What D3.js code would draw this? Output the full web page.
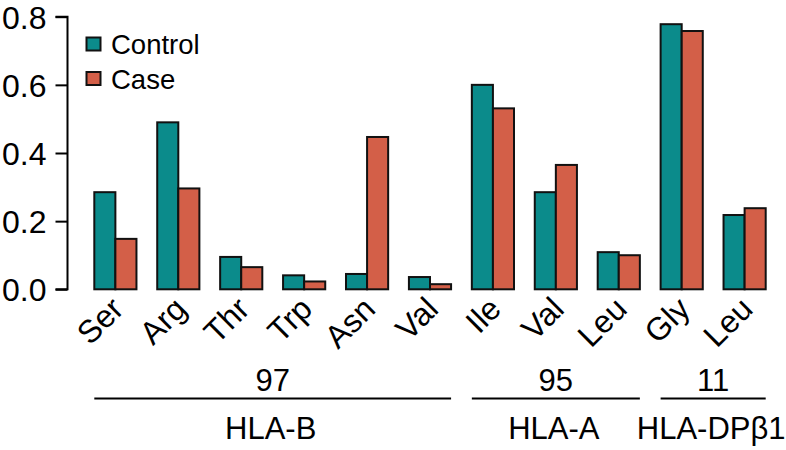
<!DOCTYPE html>
<html><head><meta charset="utf-8">
<script src="https://cdn.jsdelivr.net/npm/d3@7"></script>
<style>body{margin:0;background:#fff}svg{display:block;font-family:"Liberation Sans",Arial,Helvetica,sans-serif}</style>
</head><body><svg id="c" width="786" height="450"></svg>
<script>
const categories = ["Ser","Arg","Thr","Trp","Asn","Val","Ile","Val","Leu","Gly","Leu"];
const control = [0.285,0.49,0.095,0.041,0.045,0.036,0.60,0.285,0.109,0.778,0.218];
const caseVals = [0.148,0.296,0.065,0.023,0.447,0.015,0.531,0.365,0.10,0.758,0.238];
const seriesNames = ["Control","Case"];
const yTicks = [0,0.2,0.4,0.6,0.8];
const groupPositions = ["97","95","11"];
const groupGenes = ["HLA-B","HLA-A","HLA-DP\u03B21"];
const groupStart = [0,6,9];
const groupEnd = [5,8,10];

const colors = ["#0b8b8b","#d35f48"];
const svg = d3.select("#c");
const idx = categories.map((d,i)=>i);
const x = d3.scaleBand().domain(idx).range([94.3,765.7]).paddingInner(0.33).paddingOuter(0);
const xi = d3.scaleBand().domain([0,1]).range([0,x.bandwidth()]);
const y = d3.scaleLinear().domain([0,0.8]).range([289.3,16.7]);

// axis
const ax = svg.append("g").attr("transform","translate(67.5,0)")
  .call(d3.axisLeft(y).tickValues(yTicks).tickSize(12).tickPadding(9).tickFormat(d3.format(".1f")));
ax.attr("font-size",null).attr("font-family",null);
ax.select(".domain").attr("stroke","#000").attr("stroke-width",2).attr("d","M-12,"+y(0.8)+"H0V"+y(0)+"H-12");
ax.selectAll(".tick line").attr("stroke","#000").attr("stroke-width",2);
ax.selectAll(".tick text").attr("font-size",32).attr("fill","#000").attr("dy","0.36em");

// bars
const vals = [control, caseVals];
const g = svg.append("g");
idx.forEach(i=>{
  [0,1].forEach(s=>{
    g.append("rect")
      .attr("x", x(i)+xi(s))
      .attr("y", y(vals[s][i]))
      .attr("width", xi.bandwidth())
      .attr("height", y(0)-y(vals[s][i]))
      .attr("fill", colors[s]).attr("stroke","#111").attr("stroke-width",2);
  });
});

// category labels
svg.append("g").selectAll("text").data(idx).join("text")
  .attr("transform", i=>`translate(${x(i)+x.bandwidth()/2+10},${311}) rotate(-45)`)
  .attr("text-anchor","end").attr("font-size",32).attr("fill","#000")
  .text(i=>categories[i]);

// groups
groupPositions.forEach((p,k)=>{
  const x0 = x(groupStart[k]), x1 = x(groupEnd[k])+x.bandwidth();
  const cx = (x0+x1)/2;
  svg.append("line").attr("x1",x0).attr("x2",x1).attr("y1",398.5).attr("y2",398.5).attr("stroke","#000").attr("stroke-width",2);
  svg.append("text").attr("x",cx).attr("y",391).attr("text-anchor","middle").attr("font-size",31).text(p);
  svg.append("text").attr("x",cx-2).attr("y",439).attr("text-anchor","middle").attr("font-size",31).text(groupGenes[k]);
});

// legend
seriesNames.forEach((n,s)=>{
  svg.append("rect").attr("x",86.5).attr("y",37.5+s*34.5).attr("width",14).attr("height",13)
    .attr("fill",colors[s]).attr("stroke","#111").attr("stroke-width",2);
  svg.append("text").attr("x",111).attr("y",54).attr("dy",s*34.5).attr("font-size",27.5).text(n);
});
</script></body></html>
